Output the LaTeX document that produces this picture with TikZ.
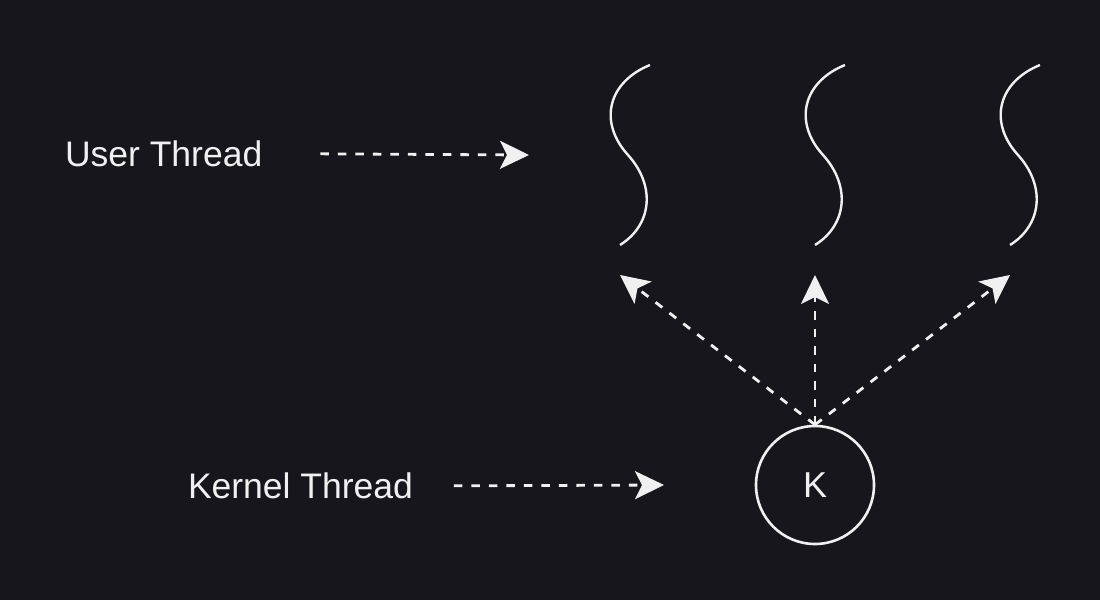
\documentclass[tikz,border=0pt]{standalone}
\usepackage{fontspec}
\setmainfont{Liberation Sans}
\usetikzlibrary{arrows.meta}
\definecolor{bgdark}{RGB}{24,22,29}
\definecolor{inkwhite}{RGB}{240,240,240}
\tikzset{every picture/.style={line width=2pt}}
\tikzset{
  txtlabel/.style={anchor=west, inner sep=0pt, text=inkwhite, font=\fontsize{35.5}{42}\selectfont},
  dasharrow/.style={draw=inkwhite, line width=2.8pt, dash pattern=on 8.5pt off 9pt,
    -{Stealth[length=29pt,width=28pt,inset=7pt]}},
  thread/.style={draw=inkwhite, line width=2.4pt}
}
\begin{document}
\begin{tikzpicture}[x=1pt,y=1pt,yscale=-1,xscale=1]
%Background
\fill [bgdark] (0,0) rectangle (1100,600);

%Curve Lines (user threads)
\draw [thread] (650,65) .. controls (608,82) and (598,122) .. (628,155) .. controls (656,186) and (652,225) .. (620,245) ;
\draw [thread] (845,65) .. controls (803,82) and (793,122) .. (823,155) .. controls (851,186) and (847,225) .. (815,245) ;
\draw [thread] (1040,65) .. controls (998,82) and (988,122) .. (1018,155) .. controls (1046,186) and (1042,225) .. (1010,245) ;

%Shape: Circle
\draw (815,485) node [circle, draw=inkwhite, line width=2.6pt, minimum size=118pt, inner sep=0pt, text=inkwhite, font=\fontsize{36}{42}\selectfont] (k) {K};

% Text Node
\draw (64,153.5) node [txtlabel] (ut) {User Thread};
% Text Node
\draw (187,486) node [txtlabel] (kt) {Kernel Thread};

%Arrow ends
\coordinate (ua) at (529,155);
\coordinate (ka) at (664,485);
\coordinate (t1) at (620,275);
\coordinate (t2) at (815,275);
\coordinate (t3) at (1010,275);

%Straight Lines
\draw [dasharrow, shorten <=57pt] (ut.east) -- (ua) ;
\draw [dasharrow, shorten <=40pt] (kt.east) -- (ka) ;
\draw [dasharrow] (k.north) -- (t1) ;
\draw [dasharrow] (k.north) -- (t2) ;
\draw [dasharrow] (k.north) -- (t3) ;

\end{tikzpicture}
\end{document}
